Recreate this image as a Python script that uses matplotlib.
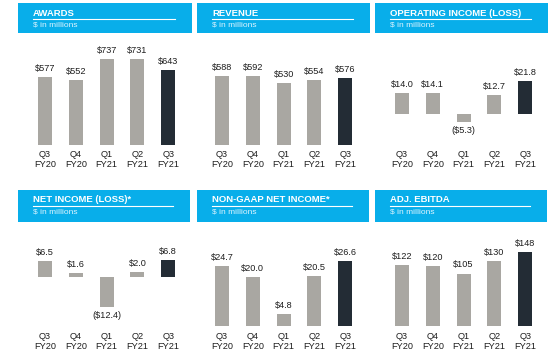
import matplotlib.pyplot as plt
from matplotlib.patches import Rectangle
from matplotlib.lines import Line2D

# data
quarters = ["Q3\nFY20", "Q4\nFY20", "Q1\nFY21", "Q2\nFY21", "Q3\nFY21"]
awards = [577, 552, 737, 731, 643]
revenue = [588, 592, 530, 554, 576]
operating_income = [14.0, 14.1, -5.3, 12.7, 21.8]
net_income = [6.5, 1.6, -12.4, 2.0, 6.8]
non_gaap_net_income = [24.7, 20.0, 4.8, 20.5, 26.6]
adj_ebitda = [122, 120, 105, 130, 148]
titles = ["AWARDS", "REVENUE", "OPERATING INCOME (LOSS)",
          "NET INCOME (LOSS)*", "NON-GAAP NET INCOME*", "ADJ. EBITDA"]

BLUE = "#08AEEA"
GRAY = "#A9A7A2"
DARK = "#232C35"
TXT = "#1E1E1E"

plt.rcParams["font.family"] = ["Liberation Sans", "DejaVu Sans"]

W, H = 560, 361
fig = plt.figure(figsize=(W / 100, H / 100), dpi=100)
fig.patch.set_facecolor("white")


def fx(x):
    return x / W


def fy(y):
    return 1 - y / H


def header(x0, x1, y0, y1, title):
    fig.add_artist(Rectangle((fx(x0), fy(y1)), fx(x1 - x0), (y1 - y0) / H,
                             transform=fig.transFigure, color=BLUE, lw=0))
    fig.text(fx(x0 + 15), fy(y0 + 10), title, color="white", fontsize=6.8,
             fontweight="heavy", va="center", ha="left")
    fig.add_artist(Line2D([fx(x0 + 15), fx(x1 - 17)], [fy(y0 + 15.5)] * 2,
                          transform=fig.transFigure, color="white", lw=0.8))
    fig.text(fx(x0 + 15), fy(y0 + 22), "$ in millions", color="#DDF4FF",
             fontsize=6, va="center", ha="left")


def fmt(v, dec):
    s = f"${abs(v):.{dec}f}"
    return f"({s})" if v < 0 else s


def panel(left, bottom, top, values, ylim, dec, pad):
    ax = fig.add_axes([fx(left), fy(bottom), 154 / W, (bottom - top) / H])
    colors = [GRAY] * (len(values) - 1) + [DARK]
    x = range(len(values))
    ax.bar(x, values, width=0.45, color=colors)
    for i, v in enumerate(values):
        if v >= 0:
            ax.annotate(fmt(v, dec), (i, v), xytext=(0, 3), textcoords="offset points",
                        ha="center", va="bottom", fontsize=6.6, color=TXT)
        else:
            ax.annotate(fmt(v, dec), (i, v), xytext=(0, -3), textcoords="offset points",
                        ha="center", va="top", fontsize=6.6, color=TXT)
    ax.set_xlim(-0.5, len(values) - 0.5)
    ax.set_ylim(*ylim)
    ax.set_xticks(list(x), quarters)
    ax.tick_params(axis="x", length=0, pad=pad, labelsize=6.6, labelcolor=TXT)
    for lbl in ax.get_xticklabels():
        lbl.set_linespacing(1.1)
    ax.set_yticks([])
    for s in ax.spines.values():
        s.set_visible(False)
    ax.patch.set_alpha(0)
    return ax


# top row
header(18, 192, 3, 33, titles[0])
header(197, 370, 3, 33, titles[1])
header(375, 548, 3, 33, titles[2])
panel(29.6, 145, 40, awards, (0, 897), 0, 3.6)
panel(206.6, 145, 40, revenue, (0, 900), 0, 3.6)
panel(386.6, 145, 40, operating_income, (-20.7, 49.3), 1, 3.6)

# bottom row
header(18, 190, 190, 222, titles[3])
header(197, 369, 190, 222, titles[4])
header(375, 547, 190, 222, titles[5])
panel(29.6, 326, 228, net_income, (-20.2, 20.1), 1, 4.2)
panel(206.6, 326, 228, non_gaap_net_income, (0, 40.2), 1, 4.2)
panel(386.6, 326, 228, adj_ebitda, (0, 196), 0, 4.2)

fig.savefig("out.png", dpi=100, facecolor="white")
